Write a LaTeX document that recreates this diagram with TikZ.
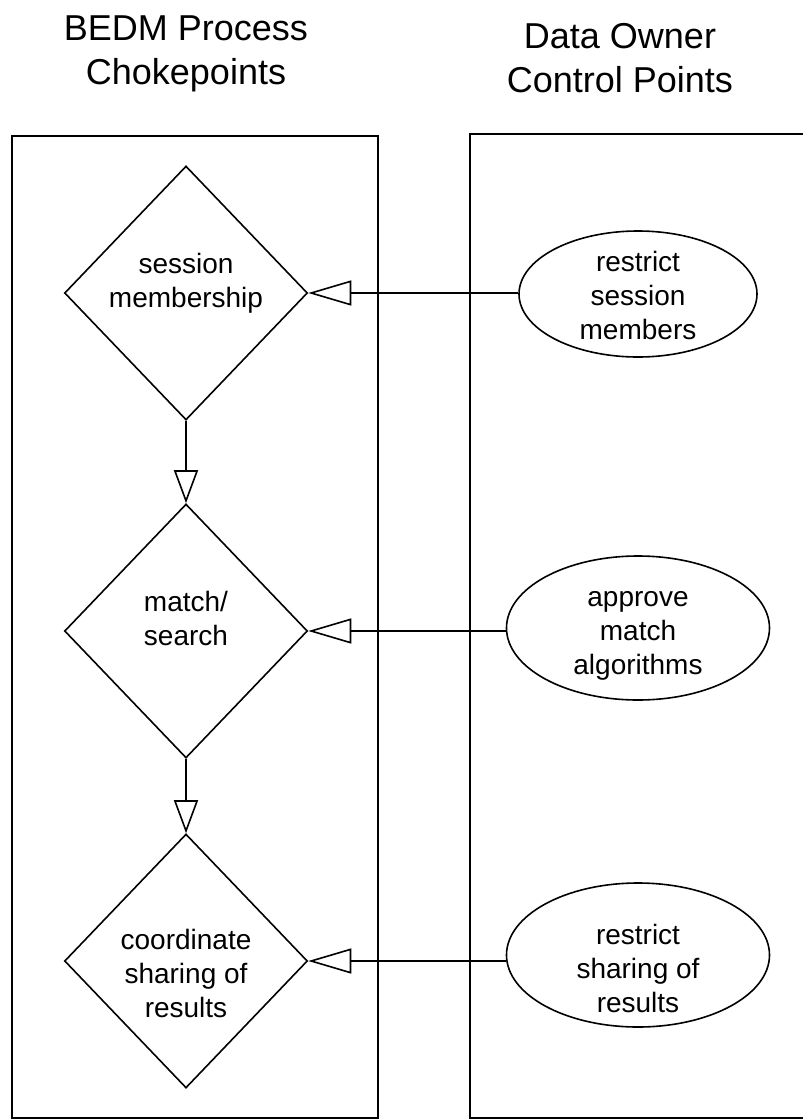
\documentclass[tikz,border=0pt]{standalone}
\usepackage{fontspec}
\setmainfont{Liberation Sans}
\usetikzlibrary{shapes.geometric,arrows.meta}
\begin{document}
\begin{tikzpicture}[x=1pt,y=-1pt,
  lane/.style={line width=2pt, draw=black},
  chk/.style={diamond, draw=black, line width=1.6pt, minimum width=243pt, minimum height=254pt, inner sep=0pt},
  ctl/.style={ellipse, draw=black, line width=1.6pt, inner sep=0pt},
  lbl/.style={align=center, font=\fontsize{28}{34}\selectfont, inner sep=0pt},
  ttl/.style={align=center, font=\fontsize{36}{44}\selectfont, inner sep=0pt},
  hflow/.style={line width=1.6pt, -{Triangle[open, length=43pt, width=25pt]}},
  vflow/.style={line width=1.6pt, -{Triangle[open, length=33pt, width=24pt]}},
]
\useasboundingbox (0,0) rectangle (803,1120);
\fill[white] (0,0) rectangle (803,1120);
% lanes
\draw[lane] (12,136) rectangle (378,1118);
\draw[lane] (806,134) -- (470,134) -- (470,1118) -- (806,1118);
% titles
\node[ttl] (t1) at (186,54) {BEDM Process\\Chokepoints};
\node[ttl] (t2) at (620,58) {Data Owner\\Control Points};
% chokepoints
\node[chk] (d1) at (186,293) {};
\node[chk] (d2) at (186,631) {};
\node[chk] (d3) at (186,961) {};
\node[lbl] (d1t) at (186,283) {session\\membership};
\node[lbl] (d2t) at (186,618) {match/\\search};
\node[lbl] (d3t) at (186,973) {coordinate\\sharing of\\results};
% control points
\node[ctl, minimum width=238pt, minimum height=126pt] (e1) at (638,294) {};
\node[ctl, minimum width=263pt, minimum height=144pt] (e2) at (638,628) {};
\node[ctl, minimum width=263pt, minimum height=144pt] (e3) at (638,955) {};
\node[lbl] (e1t) at (638,295) {restrict\\session\\members};
\node[lbl] (e2t) at (638,636) {approve\\match\\algorithms};
\node[lbl] (e3t) at (638,968) {restrict\\sharing of\\results};
% connectors
\draw[vflow] (d1.south) -- (d2.north);
\draw[vflow] (d2.south) -- (d3.north);
\draw[hflow] (d1.east -| e1.west) -- (d1.east);
\draw[hflow] (d2.east -| e2.west) -- (d2.east);
\draw[hflow] (d3.east -| e3.west) -- (d3.east);
\end{tikzpicture}
\end{document}
